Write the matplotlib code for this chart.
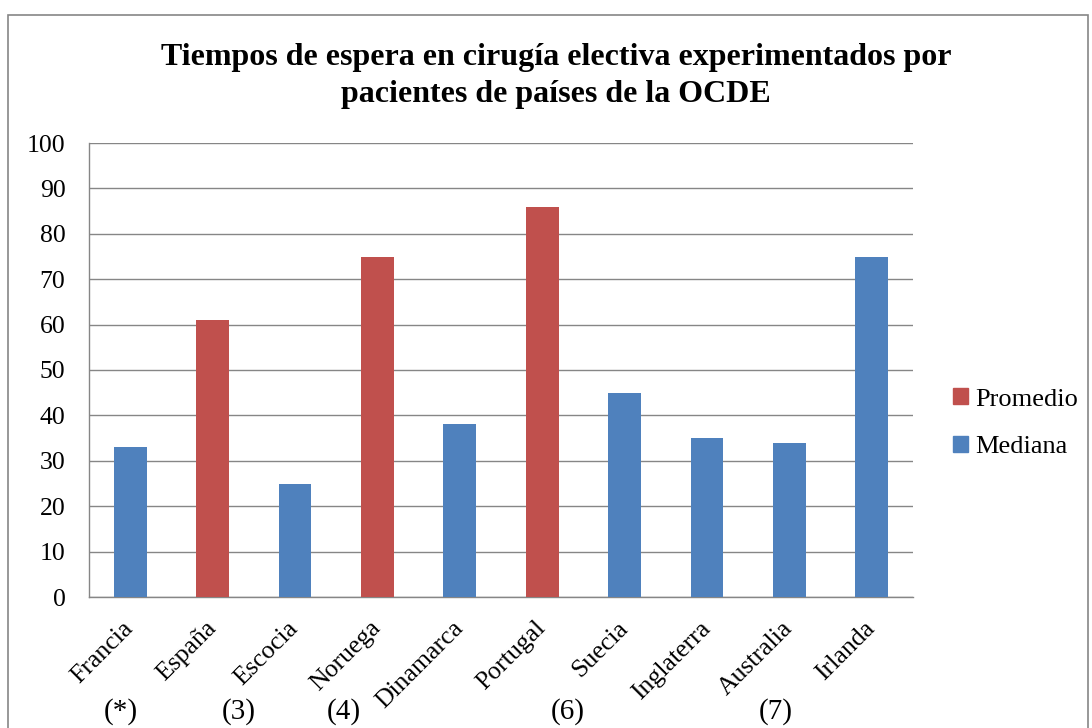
import matplotlib.pyplot as plt
from matplotlib.patches import Rectangle, Patch
import matplotlib.transforms as mtransforms

plt.rcParams['font.family'] = ['Liberation Serif', 'DejaVu Serif']

# data
paises = ['Francia', 'España', 'Escocia', 'Noruega', 'Dinamarca',
          'Portugal', 'Suecia', 'Inglaterra', 'Australia', 'Irlanda']
dias = [33, 61, 25, 75, 38, 86, 45, 35, 34, 75]
tipo = ['Mediana', 'Promedio', 'Mediana', 'Promedio', 'Mediana',
        'Promedio', 'Mediana', 'Mediana', 'Mediana', 'Mediana']
notas = ['(*)', '(3)', '(4)', '(6)', '(7)']

colores = {'Promedio': '#C0504D', 'Mediana': '#4F81BD'}

fig = plt.figure(figsize=(10.92, 7.28), dpi=100)
ax = fig.add_axes([89/1092, 131/728, 824/1092, 454/728])

"outer chart frame"
fig.patches.append(Rectangle((8/1092, -0.05), 1080/1092, 1.05 - 15/728,
                             transform=fig.transFigure, fill=False,
                             edgecolor='#868686', linewidth=1.2))

pos = range(len(paises))
ax.bar(pos, dias, width=0.4, color=[colores[t] for t in tipo], zorder=3)

ax.set_xlim(-0.5, len(paises) - 0.5)
ax.set_ylim(0, 100)
ax.set_yticks(range(0, 101, 10))
ax.yaxis.grid(True, color='#868686', linewidth=1.0, zorder=0)
for s in ['top', 'right']:
    ax.spines[s].set_visible(False)
for s in ['left', 'bottom']:
    ax.spines[s].set_color('#868686')
    ax.spines[s].set_linewidth(1.0)
ax.tick_params(axis='y', labelsize=18.5, length=0, pad=17)
ax.tick_params(axis='x', length=0, pad=20)
ax.set_xticks(list(pos))
ax.set_xticklabels(paises, rotation=45, ha='right', va='center',
                   rotation_mode='anchor', fontsize=18.5)

"footnote marks under some countries"
nota_x = [-0.11, 1.32, 2.59, 5.31, 7.83]
trans = mtransforms.blended_transform_factory(ax.transData, fig.transFigure)
for x, t in zip(nota_x, notas):
    ax.text(x, 16/728, t, transform=trans, ha='center', va='center', fontsize=21)

fig.text(556/1092, 1 - 76/728, 'Tiempos de espera en cirugía electiva experimentados por\npacientes de países de la OCDE',
         ha='center', va='center', fontsize=23, fontweight='bold', linespacing=1.38)

handles = [Patch(color=colores['Promedio']), Patch(color=colores['Mediana'])]
ax.legend(handles, ['Promedio', 'Mediana'], loc='center left',
          bbox_to_anchor=(1.02, 0.383), frameon=False, fontsize=19,
          handlelength=0.55, handleheight=0.55, handletextpad=0.3, labelspacing=0.95)

fig.savefig('out.png', dpi=100)
